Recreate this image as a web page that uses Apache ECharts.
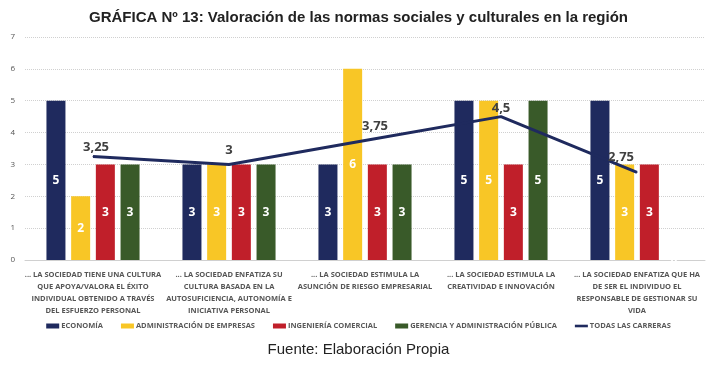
<!DOCTYPE html>
<html>
<head>
<meta charset="utf-8">
<script src="https://cdn.jsdelivr.net/npm/echarts@6/dist/echarts.min.js"></script>
<style>
  html, body { margin: 0; padding: 0; background: #fff; }
  #chart { width: 717px; height: 368px; }
</style>
</head>
<body>
<div id="chart"></div>
<script>
var categories = [
  '... LA SOCIEDAD TIENE UNA CULTURA\nQUE APOYA/VALORA EL ÉXITO\nINDIVIDUAL OBTENIDO A TRAVÉS\nDEL ESFUERZO PERSONAL',
  '... LA SOCIEDAD ENFATIZA SU\nCULTURA BASADA EN LA\nAUTOSUFICIENCIA, AUTONOMÍA E\nINICIATIVA PERSONAL',
  '... LA SOCIEDAD ESTIMULA LA\nASUNCIÓN DE RIESGO EMPRESARIAL',
  '... LA SOCIEDAD ESTIMULA LA\nCREATIVIDAD E INNOVACIÓN',
  '... LA SOCIEDAD ENFATIZA QUE HA\nDE SER EL INDIVIDUO EL\nRESPONSABLE DE GESTIONAR SU\nVIDA'
];
var economia = [5, 3, 3, 5, 5];
var administracion = [2, 3, 6, 5, 3];
var ingenieria = [3, 3, 3, 3, 3];
var gerencia = [3, 3, 3, 5, 0];
var todas = [3.25, 3, 3.75, 4.5, 2.75];
var yTicks = [0, 1, 2, 3, 4, 5, 6, 7];

// nudges for the line labels, pixels
var lineLabelOffsets = [[3, 0], [0, -5], [10, -5], [0, 1], [-16, -6]];

var chart = echarts.init(document.getElementById('chart'));

function comma(p) { return String(p.value).replace('.', ','); }

var barLabel = {
  show: true,
  position: 'inside',
  color: '#fff',
  fontWeight: 'bold',
  fontSize: 12,
  fontFamily: 'Open Sans',
  formatter: comma
};

function barSeries(name, data, color) {
  return {
    name: name,
    type: 'bar',
    data: data,
    barWidth: 19,
    barGap: '30%',
    itemStyle: { color: color },
    label: barLabel
  };
}

var lineData = todas.map(function (v, i) {
  return { value: v, label: { offset: lineLabelOffsets[i] } };
});

var option = {
  animation: false,
  title: [{
    text: 'GRÁFICA Nº 13: Valoración de las normas sociales y culturales en la región',
    left: 'center',
    top: 5,
    textStyle: { fontFamily: 'Liberation Sans', fontSize: 15, fontWeight: 'bold', color: '#222' }
  }, {
    text: 'Fuente: Elaboración Propia',
    left: 'center',
    top: 337,
    textStyle: { fontFamily: 'Liberation Sans', fontSize: 15, fontWeight: 'normal', color: '#222' }
  }],
  legend: {
    top: 317,
    left: 'center',
    itemWidth: 13,
    itemHeight: 5,
    itemGap: 18,
    textStyle: { fontSize: 7.5, color: '#595959', fontFamily: 'Open Sans', fontWeight: 'bold', padding: [0, 0, 0, -3] },
    data: [
      { name: 'ECONOMÍA', icon: 'rect' },
      { name: 'ADMINISTRACIÓN DE EMPRESAS', icon: 'rect' },
      { name: 'INGENIERÍA COMERCIAL', icon: 'rect' },
      { name: 'GERENCIA Y ADMINISTRACIÓN PÚBLICA', icon: 'rect' },
      { name: 'TODAS LAS CARRERAS', icon: 'path://M0,0 L10,0 L10,2 L0,2 Z' }
    ]
  },
  grid: { left: 25, right: 12, top: 37, bottom: 108 },
  xAxis: {
    type: 'category',
    data: categories,
    axisLine: { show: true, lineStyle: { color: '#d0d0d0' } },
    axisTick: { show: false },
    axisLabel: {
      interval: 0,
      fontSize: 7.5,
      lineHeight: 12,
      color: '#555',
      fontWeight: 'bold',
      fontFamily: 'Open Sans',
      margin: 9
    }
  },
  yAxis: {
    type: 'value',
    min: yTicks[0],
    max: yTicks[yTicks.length - 1],
    interval: 1,
    axisLine: { show: false },
    axisTick: { show: false },
    axisLabel: { fontSize: 8, color: '#555', margin: 10, fontFamily: 'Open Sans' },
    splitLine: { lineStyle: { color: '#d0d0d0', type: 'dotted', width: 1 } }
  },
  series: [
    barSeries('ECONOMÍA', economia, '#1f2a5e'),
    barSeries('ADMINISTRACIÓN DE EMPRESAS', administracion, '#f8c626'),
    barSeries('INGENIERÍA COMERCIAL', ingenieria, '#c01f2a'),
    barSeries('GERENCIA Y ADMINISTRACIÓN PÚBLICA', gerencia, '#395a29'),
    {
      name: 'TODAS LAS CARRERAS',
      type: 'line',
      data: lineData,
      symbol: 'circle',
      symbolSize: 1,
      showSymbol: true,
      z: 5,
      lineStyle: { color: '#1f2a5e', width: 3 },
      itemStyle: { color: '#1f2a5e' },
      label: {
        show: true,
        position: 'top',
        distance: 2,
        color: '#404040',
        fontWeight: 'bold',
        fontSize: 13,
        fontFamily: 'Open Sans',
        formatter: comma
      }
    }
  ]
};

chart.setOption(option);
</script>
</body>
</html>
